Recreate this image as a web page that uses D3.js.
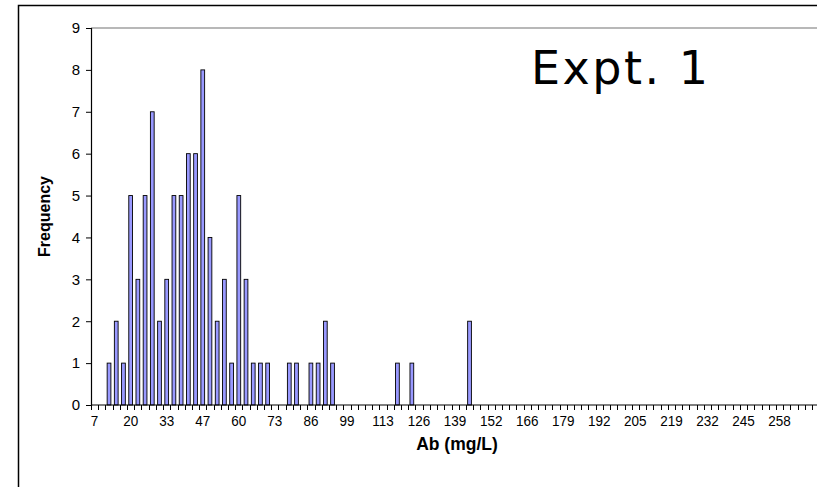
<!DOCTYPE html>
<html>
<head>
<meta charset="utf-8">
<script src="https://cdn.jsdelivr.net/npm/d3@7"></script>
<style>
  body { margin: 0; background: #fff; }
  text { font-family: "Liberation Sans", Arial, sans-serif; }
</style>
</head>
<body>
<svg id="chart" width="817" height="487"></svg>
<script>
// Frequency per bin (bin index = position on the category axis)
const binCount = 101;
const binIndex = [2, 3, 4, 5, 6, 7, 8, 9, 10, 11, 12, 13, 14, 15, 16, 17, 18, 19, 20, 21, 22, 23, 24,
                  27, 28, 30, 31, 32, 33, 42, 44, 52];
const frequency = [1, 2, 1, 5, 3, 5, 7, 2, 3, 5, 5, 6, 6, 8, 4, 2, 3, 1, 5, 3, 1, 1, 1,
                   1, 1, 1, 1, 2, 1, 1, 1, 2];
// Every 5th bin gets a label
const tickLabels = ["7", "20", "33", "47", "60", "73", "86", "99", "113", "126", "139",
                    "152", "166", "179", "192", "205", "219", "232", "245", "258"];
const yTicks = [0, 1, 2, 3, 4, 5, 6, 7, 8, 9];

const svg = d3.select("#chart");
const margin = { left: 91, top: 28, bottom: 405 };
const step = 7.21;
const plotRight = margin.left + binCount * step;

// chart-area border (runs off the right and bottom of the picture)
svg.append("rect")
	.attr("x", 18.5).attr("y", 5.5)
	.attr("width", 900).attr("height", 600)
	.attr("fill", "none").attr("stroke", "#000").attr("stroke-width", 1.5);

const x = d3.scaleBand()
	.domain(d3.range(binCount))
	.range([margin.left, plotRight])
	.paddingInner(0.48)
	.paddingOuter(0.24);
const edge = d3.scaleLinear().domain([0, binCount]).range([margin.left, plotRight]);
const y = d3.scaleLinear().domain([0, 9]).range([margin.bottom, margin.top]);

// top gridline
svg.append("line")
	.attr("x1", margin.left).attr("x2", plotRight)
	.attr("y1", y(9)).attr("y2", y(9))
	.attr("stroke", "#a0a0a0").attr("stroke-width", 1.5);

// bars
svg.append("g")
	.selectAll("rect")
	.data(binIndex.map((b, i) => ({ bin: b, value: frequency[i] })))
	.enter()
	.append("rect")
	.attr("x", (d) => x(d.bin))
	.attr("y", (d) => y(d.value))
	.attr("width", x.bandwidth())
	.attr("height", (d) => y(0) - y(d.value))
	.attr("fill", "#9999ff")
	.attr("stroke", "#000")
	.attr("stroke-width", 0.9);

// y axis
const yAxis = svg.append("g")
	.attr("transform", `translate(${margin.left},0)`)
	.call(d3.axisLeft(y).tickValues(yTicks).tickSize(5).tickPadding(6).tickFormat(d3.format("d")));
yAxis.select(".domain").attr("stroke", "#000").attr("stroke-width", 1.2);
yAxis.selectAll("text").attr("font-size", 15).attr("fill", "#000")
	.style("font-family", "Liberation Sans, Arial, sans-serif");

// x axis: line, tick marks at bin edges, labels every 5th bin
const xAxis = svg.append("g");
xAxis.append("line")
	.attr("x1", margin.left).attr("x2", plotRight)
	.attr("y1", y(0)).attr("y2", y(0))
	.attr("stroke", "#000").attr("stroke-width", 1.2);
xAxis.selectAll("line.tick")
	.data(d3.range(binCount + 1))
	.enter()
	.append("line")
	.attr("class", "tick")
	.attr("x1", (d) => Math.round(edge(d)) + 0.5)
	.attr("x2", (d) => Math.round(edge(d)) + 0.5)
	.attr("y1", y(0))
	.attr("y2", y(0) + 5)
	.attr("stroke", "#000");
xAxis.selectAll("text")
	.data(tickLabels)
	.enter()
	.append("text")
	.attr("transform", (d, i) => `translate(${x(i * 5) + x.bandwidth() / 2},${y(0) + 21}) scale(1,1.12)`)
	.attr("text-anchor", "middle")
	.attr("font-size", 13.5)
	.text((d) => d);

// axis titles
svg.append("text")
	.attr("x", 457).attr("y", 450)
	.attr("text-anchor", "middle")
	.attr("font-size", 17.5).attr("font-weight", "bold")
	.text("Ab (mg/L)");
svg.append("text")
	.attr("transform", `translate(50,${(y(0) + y(9)) / 2}) rotate(-90)`)
	.attr("text-anchor", "middle")
	.attr("font-size", 16).attr("font-weight", "bold")
	.text("Frequency");

// experiment label
svg.append("text")
	.attr("x", 531).attr("y", 84)
	.attr("font-size", 46)
	.attr("letter-spacing", 2.5)
	.style("font-family", "DejaVu Sans, Verdana, sans-serif")
	.text("Expt. 1");
</script>
</body>
</html>
